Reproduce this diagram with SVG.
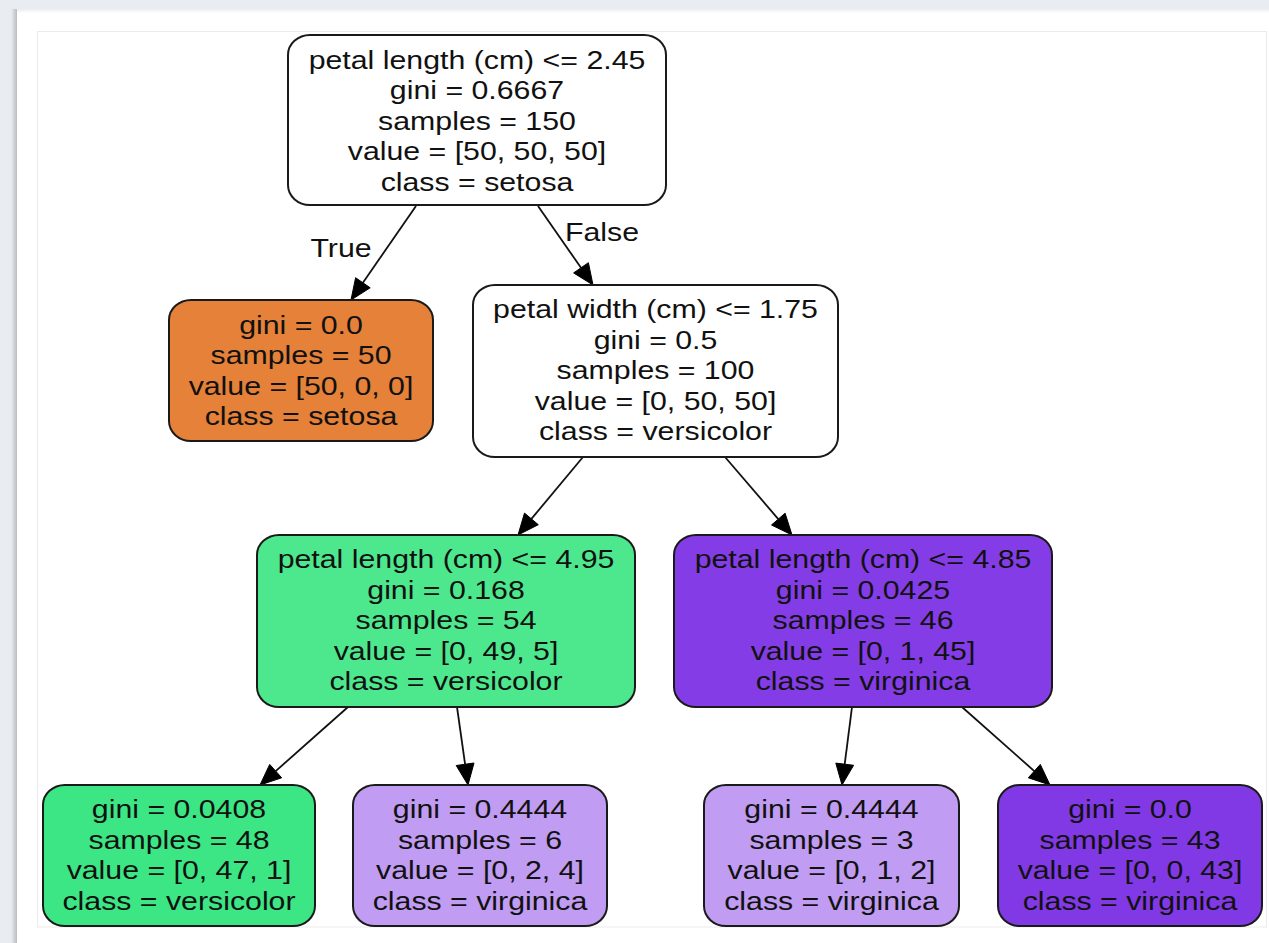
<svg xmlns="http://www.w3.org/2000/svg" width="1269" height="943" viewBox="0 0 1269 943">
<defs>
<linearGradient id="shL" x1="0" y1="0" x2="1" y2="0">
<stop offset="0" stop-color="#e9ecf0"/>
<stop offset="1" stop-color="#b9bcc0"/>
</linearGradient>
<linearGradient id="shT" x1="0" y1="0" x2="0" y2="1">
<stop offset="0" stop-color="#e9ecf0"/>
<stop offset="1" stop-color="#ffffff"/>
</linearGradient>
</defs>
<style>
.node{stroke:#1a1a1a;stroke-width:2}
.t{font-family:"Liberation Sans",Arial,Helvetica,sans-serif;font-size:26px;fill:#111;text-anchor:middle}
.edge{stroke:#111;stroke-width:1.8;fill:none}
.ah{fill:#000;stroke:#000;stroke-width:1}
</style>
<g id="background">
<rect x="0" y="0" width="1269" height="943" fill="#e9ecf0"/>
<rect x="11" y="9" width="6" height="934" fill="url(#shL)"/>
<rect x="17" y="9" width="1252" height="934" fill="#ffffff"/>
<rect x="17" y="9" width="1252" height="4" fill="url(#shT)"/>
<rect x="37.5" y="31.5" width="1229" height="895.5" fill="none" stroke="#ebebeb" stroke-width="1"/>
</g>
<g id="connectors">
<line class="edge" x1="416" y1="206" x2="362.9" y2="282.7"/>
<polygon class="ah" points="351,300 370.2,287.8 355.6,277.7"/>
<text class="t" transform="translate(341,257) scale(1.165,1)" x="0" y="0">True</text>
<line class="edge" x1="538" y1="206" x2="581" y2="267.8"/>
<polygon class="ah" points="593,285 573.6,272.9 588.4,262.7"/>
<text class="t" transform="translate(602,241) scale(1.165,1)" x="0" y="0">False</text>
<line class="edge" x1="583" y1="457" x2="531.4" y2="518.9"/>
<polygon class="ah" points="518,535 538.3,524.7 524.5,513.1"/>
<line class="edge" x1="725" y1="457" x2="778.3" y2="519.1"/>
<polygon class="ah" points="792,535 771.5,525 785.1,513.2"/>
<line class="edge" x1="348" y1="707" x2="275.7" y2="771.1"/>
<polygon class="ah" points="260,785 281.7,777.8 269.7,764.4"/>
<line class="edge" x1="457" y1="707" x2="465.1" y2="764.2"/>
<polygon class="ah" points="468,785 456.2,765.5 474,763"/>
<line class="edge" x1="852" y1="707" x2="844.7" y2="764.2"/>
<polygon class="ah" points="842,785 853.6,765.3 835.8,763.1"/>
<line class="edge" x1="962" y1="707" x2="1034.3" y2="771.1"/>
<polygon class="ah" points="1050,785 1028.3,777.8 1040.3,764.4"/>
</g>
<g id="node0">
<rect class="node" x="288" y="35" width="378" height="170" rx="22" ry="20" fill="#ffffff"/>
<text class="t" transform="translate(477,0) scale(1.165,1)"><tspan x="0" y="69">petal length (cm) &lt;= 2.45</tspan><tspan x="0" y="99.5">gini = 0.6667</tspan><tspan x="0" y="130">samples = 150</tspan><tspan x="0" y="160.5">value = [50, 50, 50]</tspan><tspan x="0" y="191">class = setosa</tspan></text>
</g>
<g id="node1">
<rect class="node" x="169" y="300" width="264" height="141" rx="22" ry="20" fill="#e58139"/>
<text class="t" transform="translate(301,0) scale(1.165,1)"><tspan x="0" y="334">gini = 0.0</tspan><tspan x="0" y="364.5">samples = 50</tspan><tspan x="0" y="395">value = [50, 0, 0]</tspan><tspan x="0" y="425.5">class = setosa</tspan></text>
</g>
<g id="node2">
<rect class="node" x="473" y="285" width="365" height="172" rx="22" ry="20" fill="#ffffff"/>
<text class="t" transform="translate(655.5,0) scale(1.165,1)"><tspan x="0" y="318.5">petal width (cm) &lt;= 1.75</tspan><tspan x="0" y="349">gini = 0.5</tspan><tspan x="0" y="379.5">samples = 100</tspan><tspan x="0" y="410">value = [0, 50, 50]</tspan><tspan x="0" y="440.5">class = versicolor</tspan></text>
</g>
<g id="node3">
<rect class="node" x="257" y="535" width="378" height="172" rx="22" ry="20" fill="#4de88e"/>
<text class="t" transform="translate(446,0) scale(1.165,1)"><tspan x="0" y="568.5">petal length (cm) &lt;= 4.95</tspan><tspan x="0" y="599">gini = 0.168</tspan><tspan x="0" y="629.5">samples = 54</tspan><tspan x="0" y="660">value = [0, 49, 5]</tspan><tspan x="0" y="690.5">class = versicolor</tspan></text>
</g>
<g id="node4">
<rect class="node" x="674" y="535" width="378" height="172" rx="22" ry="20" fill="#843de6"/>
<text class="t" transform="translate(863,0) scale(1.165,1)"><tspan x="0" y="568.5">petal length (cm) &lt;= 4.85</tspan><tspan x="0" y="599">gini = 0.0425</tspan><tspan x="0" y="629.5">samples = 46</tspan><tspan x="0" y="660">value = [0, 1, 45]</tspan><tspan x="0" y="690.5">class = virginica</tspan></text>
</g>
<g id="node5">
<rect class="node" x="43" y="785" width="272" height="141" rx="22" ry="20" fill="#3de684"/>
<text class="t" transform="translate(179,0) scale(1.165,1)"><tspan x="0" y="818.5">gini = 0.0408</tspan><tspan x="0" y="849">samples = 48</tspan><tspan x="0" y="879.5">value = [0, 47, 1]</tspan><tspan x="0" y="910">class = versicolor</tspan></text>
</g>
<g id="node6">
<rect class="node" x="353" y="785" width="254" height="141" rx="22" ry="20" fill="#c09cf2"/>
<text class="t" transform="translate(480,0) scale(1.165,1)"><tspan x="0" y="818.5">gini = 0.4444</tspan><tspan x="0" y="849">samples = 6</tspan><tspan x="0" y="879.5">value = [0, 2, 4]</tspan><tspan x="0" y="910">class = virginica</tspan></text>
</g>
<g id="node7">
<rect class="node" x="704" y="785" width="255" height="141" rx="22" ry="20" fill="#c09cf2"/>
<text class="t" transform="translate(831.5,0) scale(1.165,1)"><tspan x="0" y="818.5">gini = 0.4444</tspan><tspan x="0" y="849">samples = 3</tspan><tspan x="0" y="879.5">value = [0, 1, 2]</tspan><tspan x="0" y="910">class = virginica</tspan></text>
</g>
<g id="node8">
<rect class="node" x="998" y="785" width="264" height="141" rx="22" ry="20" fill="#8139e5"/>
<text class="t" transform="translate(1130,0) scale(1.165,1)"><tspan x="0" y="818.5">gini = 0.0</tspan><tspan x="0" y="849">samples = 43</tspan><tspan x="0" y="879.5">value = [0, 0, 43]</tspan><tspan x="0" y="910">class = virginica</tspan></text>
</g>
</svg>
